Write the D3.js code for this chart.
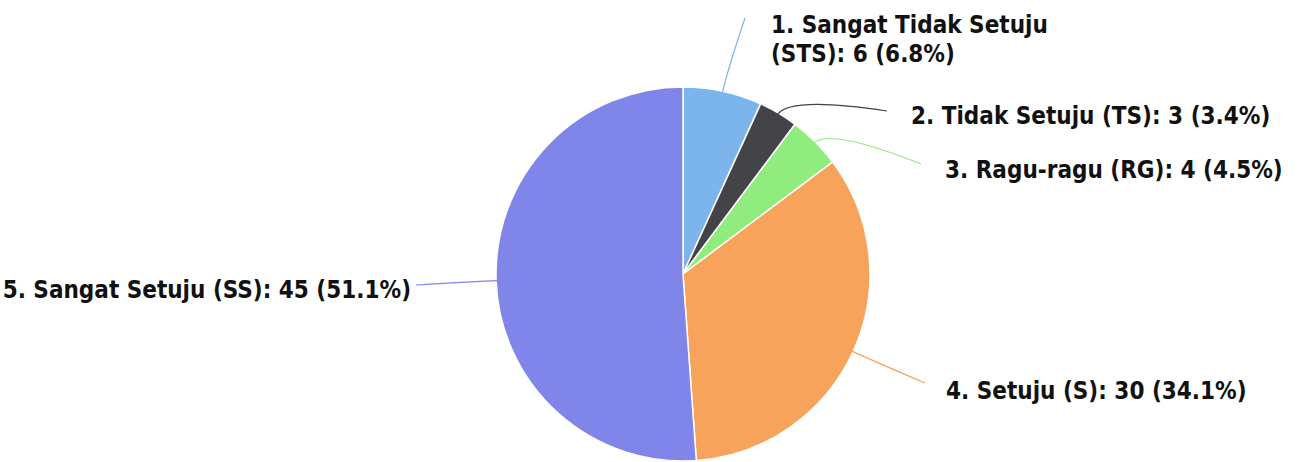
<!DOCTYPE html>
<html>
<head>
<meta charset="utf-8">
<script src="https://cdn.jsdelivr.net/npm/d3@7"></script>
<style>
  html, body { margin: 0; padding: 0; background: #fff; }
  svg { display: block; }
  .lbl { font-family: "DejaVu Sans Condensed", "DejaVu Sans", sans-serif; font-stretch: condensed; font-size: 24px; fill: #111; font-weight: bold; }
</style>
</head>
<body>
<svg id="chart" width="1306" height="462"></svg>
<script>
// ---- data ----
const categories = ["1. Sangat Tidak Setuju (STS)", "2. Tidak Setuju (TS)", "3. Ragu-ragu (RG)", "4. Setuju (S)", "5. Sangat Setuju (SS)"];
const values = [6, 3, 4, 30, 45];
const colors = ["#7cb5ec", "#434348", "#90ed7d", "#f7a35c", "#8085e9"];

// ---- layout (label placement, not data) ----
const W = 1306, H = 462;
const cx = 683, cy = 274, R = 187;
const labelLayout = [
  { x: 771, ys: [33, 62], anchor: "start", end: [745, 18], lines: 2 },
  { x: 911, ys: [124], anchor: "start", end: [887, 111], lines: 1 },
  { x: 945, ys: [178], anchor: "start", end: [921, 164], lines: 1 },
  { x: 946, ys: [399], anchor: "start", end: [925, 383], lines: 1 },
  { x: 411, ys: [298], anchor: "end", end: [416, 285], lines: 1 }
];

const total = d3.sum(values);
const pct = d3.format(".1%");
const data = categories.map((c, i) => ({ name: c, value: values[i], color: colors[i], i }));

const svg = d3.select("#chart");
const g = svg.append("g").attr("transform", `translate(${cx},${cy})`);

const pie = d3.pie().value(d => d.value).sort(null).startAngle(0).endAngle(2 * Math.PI);
const arcs = pie(data);
const arc = d3.arc().innerRadius(0).outerRadius(R);

g.selectAll("path.slice").data(arcs).enter().append("path")
  .attr("class", "slice")
  .attr("d", arc)
  .attr("fill", d => d.data.color)
  .attr("stroke", "#fff")
  .attr("stroke-width", 1.5)
  .attr("stroke-linejoin", "round");

// connectors
function polar(r, a) { return [cx + r * Math.sin(a), cy - r * Math.cos(a)]; }
svg.selectAll("path.conn").data(arcs).enter().append("path")
  .attr("class", "conn")
  .attr("fill", "none")
  .attr("stroke", d => d.data.color)
  .attr("stroke-width", 1.2)
  .attr("d", d => {
    const m = (d.startAngle + d.endAngle) / 2;
    const p0 = polar(R - 2, m);
    const p1 = polar(R + 20, m);
    const e = labelLayout[d.index].end;
    return `M${p0[0]},${p0[1]} Q${p1[0]},${p1[1]} ${e[0]},${e[1]}`;
  });

// labels
arcs.forEach(d => {
  const L = labelLayout[d.index];
  const full = `${d.data.name}: ${d.data.value} (${pct(d.data.value / total)})`;
  let lines = [full];
  if (L.lines === 2) {
    const idx = full.indexOf(" (");
    lines = [full.slice(0, idx), full.slice(idx + 1)];
  }
  const t = svg.append("text").attr("class", "lbl")
    .attr("text-anchor", L.anchor);
  lines.forEach((ln, k) => {
    t.append("tspan").attr("x", L.x).attr("y", L.ys[k]).text(ln);
  });
});
</script>
</body>
</html>
